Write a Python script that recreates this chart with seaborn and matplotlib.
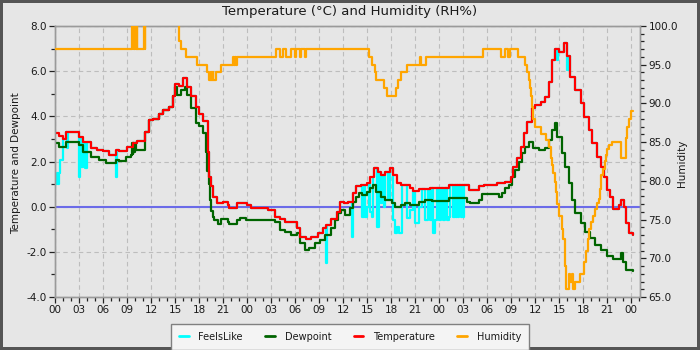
import matplotlib
matplotlib.use("Agg")
import matplotlib.pyplot as plt
import pandas as pd
import seaborn as sns
from matplotlib.ticker import MultipleLocator, FixedLocator, FormatStrFormatter
from matplotlib.lines import Line2D

# ---- readings (hours since the first midnight; values hold until the next reading) ----
temp_hours = [0, 0.5, 1.0, 1.4, 3.0, 3.5, 4.5, 5.3, 6.0, 6.8, 7.6, 8.0, 9.0, 9.7, 10.3,
              11.2, 11.8, 12.2, 13.0, 13.5, 14.3, 14.8, 15.0, 15.5, 16.0, 16.5, 17.0, 17.6,
              18.0, 18.5, 19.1, 19.3, 19.5, 19.8, 20.2, 21.0, 21.6, 21.8, 22.7, 24.0, 24.5,
              26.6, 27.5, 28.1, 28.7, 30.2, 30.6, 31.4, 32.0, 32.9, 33.5, 33.9, 34.5, 35.2,
              35.6, 36.1, 36.6, 37.3, 37.6, 38.2, 39.0, 39.4, 39.9, 40.4, 40.7, 41.3, 41.9,
              42.3, 42.75, 43.2, 44.4, 44.8, 45.5, 46.9, 49.2, 51.7, 53.0, 53.6, 55.25, 56.3,
              57.0, 57.3, 57.75, 58.2, 58.6, 59.0, 59.6, 60.0, 60.7, 61.3, 61.7, 62.1, 62.5,
              63.0, 63.6, 64.0, 64.4, 65.0, 65.7, 66.1, 66.7, 67.1, 67.75, 68.2, 68.6, 69.0,
              69.4, 69.8, 70.5, 70.75, 71.1, 71.4, 71.7, 72.25]
temp_values = [3.25, 3.15, 3.0, 3.3, 3.1, 2.85, 2.6, 2.5, 2.45, 2.3, 2.5, 2.45, 2.65, 2.8, 2.9,
               3.3, 3.85, 3.9, 4.1, 4.3, 4.4, 4.9, 5.45, 5.35, 5.7, 5.3, 4.9, 4.4,
               4.1, 3.8, 2.4, 1.3, 0.9, 0.45, 0.18, 0.2, 0.07, -0.07, 0.15, 0.07, -0.07,
               -0.15, -0.45, -0.56, -0.66, -0.96, -1.33, -1.45, -1.33, -1.18, -0.96, -0.8, -0.56, -0.22,
               0.22, 0.15, 0.22, 0.6, 0.9, 0.95, 1.03, 1.33, 1.7, 1.55, 1.4, 1.55, 1.7,
               1.4, 1.03, 0.95, 0.81, 0.71, 0.77, 0.81, 0.95, 0.74, 0.9, 0.96, 1.03, 1.1,
               1.33, 1.77, 2.14, 2.66, 3.25, 3.77, 4.36, 4.5, 4.65, 4.87, 5.54, 6.5, 7.0,
               6.84, 7.24, 6.65, 5.76, 5.17, 4.58, 3.99, 3.4, 2.8, 2.2, 1.77, 1.33, 0.74,
               0.44, -0.12, 0.07, 0.3, 0.0, -0.74, -1.18, -1.25]

dew_hours = [0, 0.5, 1.4, 3.0, 3.5, 4.5, 5.5, 6.4, 7.6, 8.0, 8.9, 9.5, 9.6, 9.7, 9.8, 9.9,
             10.0, 10.1, 11.2, 11.8, 12.2, 13.0, 13.5, 14.3, 14.8, 15.0, 15.3, 15.75, 16.2,
             16.5, 17.0, 17.6, 18.0, 18.5, 18.9, 19.05, 19.2, 19.35, 19.5, 19.7, 19.9, 20.4,
             20.8, 21.6, 21.8, 22.7, 23.1, 23.9, 27.5, 28.1, 28.7, 29.5, 30.2, 30.6, 31.2,
             31.8, 32.5, 33.1, 33.7, 34.5, 35.0, 35.4, 35.7, 36.3, 36.9, 37.3, 37.6, 38.0,
             38.4, 39.0, 39.4, 39.8, 40.1, 40.7, 41.3, 42.1, 42.5, 43.2, 43.8, 44.4, 45.5,
             46.3, 47.1, 49.2, 51.5, 51.9, 53.0, 53.4, 55.5, 55.9, 56.3, 56.7, 57.1, 57.5,
             58.0, 58.4, 58.8, 59.3, 59.8, 60.5, 61.3, 61.7, 62.1, 62.5, 62.75, 63.4, 63.8,
             64.2, 64.6, 65.0, 65.7, 66.3, 66.9, 67.5, 68.2, 69.0, 69.8, 70.75, 71.0, 71.4,
             72.25]
dew_values = [2.8, 2.63, 2.85, 2.73, 2.44, 2.22, 2.07, 1.92, 2.07, 2.04, 2.19, 2.3, 2.8, 2.35, 2.8, 2.4,
              2.8, 2.5, 3.3, 3.85, 3.9, 4.1, 4.3, 4.4, 4.9, 5.3, 4.95, 5.17, 5.3,
              4.95, 4.36, 3.7, 3.55, 3.25, 2.4, 1.6, 1.0, 0.3, -0.2, -0.44, -0.6, -0.77,
              -0.56, -0.66, -0.77, -0.6, -0.52, -0.6, -0.7, -1.03, -1.1, -1.25, -1.18, -1.63, -1.92,
              -1.85, -1.63, -1.48, -1.25, -0.96, -0.6, -0.3, -0.15, -0.37, -0.07, 0.22, 0.44, 0.6,
              0.52, 0.66, 0.81, 0.96, 0.66, 0.44, 0.3, 0.15, 0.0, 0.07, 0.18, 0.07, 0.22,
              0.3, 0.25, 0.37, 0.22, 0.15, 0.3, 0.56, 0.44, 0.6, 0.81, 0.96, 1.33, 1.63,
              2.0, 2.36, 2.66, 2.85, 2.6, 2.5, 2.59, 2.95, 3.4, 3.7, 3.1, 2.36, 1.77,
              1.03, 0.3, -0.3, -0.74, -1.1, -1.4, -1.7, -1.92, -2.2, -2.3, -2.07, -2.44, -2.8,
              -2.85]

feels_hours = [0.0, 0.2, 0.35, 0.5, 0.65, 1.0, 1.4, 1.5, 1.6, 3.0, 3.15, 3.3, 3.45, 3.8, 3.95,
               4.5, 5.3, 6.0, 6.8, 7.6, 7.75, 8.0, 9.0, 9.7, 10.3, 11.2, 11.8, 12.2, 13.0,
               13.5, 14.3, 14.8, 15.0, 15.5, 16.0, 16.5, 17.0, 17.6, 18.0, 18.5, 19.1, 19.3,
               19.5, 19.8, 20.2, 21.0, 21.6, 21.8, 22.7, 24.0, 24.5, 26.6, 27.5, 28.1, 28.7,
               30.2, 30.6, 31.4, 32.0, 32.9, 33.5, 33.85, 34.0, 34.5, 35.2, 35.6, 36.1, 36.6,
               37.1, 37.25, 37.3, 37.6, 38.2, 38.4, 38.6, 38.8, 39.0, 39.2, 39.4, 39.6, 39.75,
               39.9, 40.25, 40.45, 40.7, 40.9, 41.1, 41.3, 41.6, 41.9, 42.3, 42.5, 42.7, 43.0,
               43.4, 44.0, 44.4, 44.8, 45.0, 45.5, 45.9, 46.2, 46.6, 46.9, 47.1, 47.3, 47.5,
               47.7, 48.0, 48.2, 48.5, 48.7, 49.0, 49.2, 49.4, 49.8, 49.95, 50.1, 50.25, 50.4,
               50.55, 50.7, 50.85, 51.0, 51.15, 51.7, 53.0, 53.6, 55.25, 56.3, 57.0, 57.3,
               57.75, 58.2, 58.6, 59.0, 59.6, 60.0, 60.7, 61.3, 61.7, 62.1, 62.5, 62.7, 62.85,
               63.0, 63.6, 64.0, 64.3, 64.4, 65.0, 65.7, 66.1, 66.7, 67.1, 67.75, 68.2, 68.6,
               69.0, 69.4, 69.8, 70.5, 70.75, 71.1, 71.4, 71.7, 72.25]
feels_values = [1.0, 1.5, 1.0, 1.5, 2.07, 3.0, 3.3, 2.6, 3.3, 1.33, 3.1, 1.77, 2.85, 1.7, 2.85,
                2.6, 2.5, 2.45, 2.3, 1.33, 2.5, 2.45, 2.65, 2.8, 2.9, 3.3, 3.85, 3.9, 4.1,
                4.3, 4.4, 4.9, 5.45, 5.35, 5.7, 5.3, 4.9, 4.4, 4.1, 3.8, 2.4, 1.3,
                0.9, 0.45, 0.18, 0.2, 0.07, -0.07, 0.15, 0.07, -0.07, -0.15, -0.45, -0.56, -0.66,
                -0.96, -1.33, -1.45, -1.33, -1.18, -0.96, -2.5, -0.8, -0.56, -0.22, 0.22, 0.15, 0.22,
                -1.33, 0.22, 0.6, 0.9, 0.95, -0.44, 0.95, -0.44, 0.0, 1.03, -0.22, -0.44, 1.33,
                1.7, -0.89, 1.55, 0.15, 1.4, 0.0, 1.55, 0.3, 1.7, -0.6, -1.18, -0.9, -1.18,
                0.95, -0.52, -0.15, 0.71, -0.74, 0.0, 0.77, -0.6, 0.77, -0.6, 0.81, -1.18, -0.6,
                0.81, -0.6, 0.81, -0.6, 0.81, -0.6, -0.44, 0.95, -0.44, 0.95, -0.44, 0.95, -0.44,
                0.95, -0.44, 0.95, -0.44, 0.95, 0.74, 0.9, 0.96, 1.03, 1.1, 1.33, 1.77,
                2.14, 2.66, 3.25, 3.77, 4.36, 4.5, 4.65, 4.87, 5.54, 6.5, 7.0, 6.5, 7.0,
                6.84, 7.24, 6.05, 6.65, 5.76, 5.17, 4.58, 3.99, 3.4, 2.8, 2.2, 1.77, 1.33,
                0.74, 0.44, -0.12, 0.07, 0.3, 0.0, -0.74, -1.18, -1.25]

# relative humidity; readings of 101 sit above the 100 % ceiling of the axis
hum_hours = [0, 9.6, 9.7, 9.8, 9.9, 10.0, 10.1, 10.2, 10.3, 11.15, 11.25, 11.3, 15.45, 15.75,
             16.4, 17.7, 19.05, 19.3, 19.45, 19.55, 19.7, 19.8, 20.1, 20.7, 22.25, 22.4, 22.5,
             22.6, 22.7, 27.67, 28.08, 28.5, 28.9, 29.54, 29.96, 30.17, 30.58, 30.79, 31.2,
             31.4, 39.2, 39.6, 40.0, 40.1, 41.1, 41.5, 42.6, 42.9, 43.2, 44.0, 45.6, 45.8,
             46.4, 53.45, 55.8, 56.2, 56.6, 56.9, 57.9, 58.7, 59.0, 59.2, 59.4, 59.55, 59.65,
             59.8, 60.0, 60.8, 61.4, 61.8, 61.95, 62.1, 62.3, 62.45, 62.6, 62.8, 63.0, 63.4,
             63.55, 63.7, 63.8, 63.9, 64.2, 64.35, 64.6, 64.8, 64.95, 65.6, 66.1, 66.4, 66.6,
             66.8, 66.95, 67.2, 67.5, 67.7, 68.0, 68.15, 68.3, 68.45, 68.7, 68.85, 69.0, 69.3,
             69.6, 70.8, 71.4, 71.55, 71.75, 72.05, 72.25]
hum_values = [97, 101, 97, 101, 97, 101, 97, 101, 97, 101, 97, 101, 98, 97,
              96, 95, 94, 93, 94, 93, 94, 93, 94, 95, 96, 95, 96,
              95, 96, 97, 96, 97, 96, 97, 96, 97, 96, 97, 96,
              97, 96, 95, 94, 93, 92, 91, 92, 93, 94, 95, 96, 95,
              96, 97, 96, 97, 96, 97, 96, 95, 94, 93, 92, 91, 89.5,
              88, 87, 86, 85.3, 84.4, 83, 82, 81, 79.8, 78.5, 77, 75.5, 73.8,
              72.5, 71, 69, 66, 68, 67, 68, 66, 67, 68, 69.5, 71, 72.5,
              73.8, 74.7, 75.5, 76.4, 77.2, 77.7, 79, 80.7, 81.5, 82.5, 83.3, 84.1, 84.6,
              85, 83, 85.5, 87, 88, 89, 89]

x_tick_hours = list(range(0, 73, 3))
x_tick_labels = [f"{h % 24:02d}" for h in x_tick_hours]

# ---- styling ----
sns.set_style("ticks")
plt.rcParams["font.family"] = ["DejaVu Sans"]
BG = "#e6e6e6"
SPINE = "#9a9a9a"
GRID = "#bdbdbd"
TXT = "#1a1a1a"

fig = plt.figure(figsize=(7, 3.5), dpi=100, facecolor=BG)
fig.patch.set_edgecolor("#555555")
fig.patch.set_linewidth(4)

ax = fig.add_axes([55 / 700, 1 - 297 / 350, 585 / 700, 271 / 350])
ax.set_facecolor(BG)
ax2 = ax.twinx()
ax2.set_zorder(ax.get_zorder() + 1)
ax2.patch.set_visible(False)


def frame(hours, values):
    return pd.DataFrame({"hour": hours, "value": values})


line_kw = dict(estimator=None, sort=False, drawstyle="steps-post", linewidth=1.6, legend=False)

ax.axhline(0, color="#6b6be8", linewidth=1.5, zorder=1.5)
sns.lineplot(data=frame(feels_hours, feels_values), x="hour", y="value", ax=ax,
             color="#00ffff", zorder=2, **line_kw)
sns.lineplot(data=frame(dew_hours, dew_values), x="hour", y="value", ax=ax,
             color="#006400", zorder=3, **line_kw)
sns.lineplot(data=frame(temp_hours, temp_values), x="hour", y="value", ax=ax,
             color="#ff0000", zorder=4, **line_kw)
sns.lineplot(data=frame(hum_hours, hum_values), x="hour", y="value", ax=ax2,
             color="#ffa500", zorder=3, **line_kw)

# axes ranges and ticks
ax.set_xlim(0, 585 / 8)
ax.set_ylim(-4, 8)
ax2.set_ylim(65, 100)

ax.xaxis.set_major_locator(FixedLocator(x_tick_hours))
ax.set_xticklabels(x_tick_labels)
ax.xaxis.set_minor_locator(MultipleLocator(1))
ax.yaxis.set_major_locator(MultipleLocator(2))
ax.yaxis.set_minor_locator(MultipleLocator(1))
ax.yaxis.set_major_formatter(FormatStrFormatter("%.1f"))
ax2.yaxis.set_major_locator(MultipleLocator(5))
ax2.yaxis.set_minor_locator(MultipleLocator(1))
ax2.yaxis.set_major_formatter(FormatStrFormatter("%.1f"))

for a in (ax, ax2):
    a.tick_params(which="major", length=4, width=0.9, color="#222222",
                  labelsize=7.5, labelcolor=TXT, pad=2)
    a.tick_params(which="minor", length=3, width=0.9, color="#222222")
    a.set_xlabel("")
    a.set_ylabel("")
    for s in a.spines.values():
        s.set_visible(True)
        s.set_color(SPINE)
        s.set_linewidth(1.0)

ax.grid(True, which="major", axis="both", color=GRID, linestyle=(0, (4, 3)), linewidth=0.8)
ax2.grid(False)
ax.set_axisbelow(True)

# texts
fig.text(0.5, 1 - 12 / 350, "Temperature (°C) and Humidity (RH%)", ha="center", va="center",
         fontsize=9.5, color=TXT)
fig.text(16 / 700, 1 - 163 / 350, "Temperature and Dewpoint", rotation=90, ha="center",
         va="center", fontsize=7.5, color=TXT)
fig.text(682 / 700, 1 - 163 / 350, "Humidity", rotation=90, ha="center", va="center",
         fontsize=7.5, color=TXT)

# legend row below the plot
handles = [Line2D([], [], color=c, linewidth=2) for c in ("#00ffff", "#006400", "#ff0000", "#ffa500")]
labels = ["FeelsLike", "Dewpoint", "Temperature", "Humidity"]
leg = fig.legend(handles, labels, loc="upper center", bbox_to_anchor=(0.5, 1 - 324 / 350),
                 ncol=4, fontsize=7, frameon=True, fancybox=False, borderaxespad=0,
                 handlelength=1.0, handletextpad=1.0, columnspacing=2.3, borderpad=0.8)
leg.get_frame().set_facecolor("#f4f4f4")
leg.get_frame().set_edgecolor("#808080")
leg.get_frame().set_linewidth(1.0)
leg.get_frame().set_alpha(1)
for t in leg.get_texts():
    t.set_color(TXT)

fig.savefig("out.png", dpi=100, facecolor=fig.get_facecolor(), edgecolor=fig.patch.get_edgecolor())
